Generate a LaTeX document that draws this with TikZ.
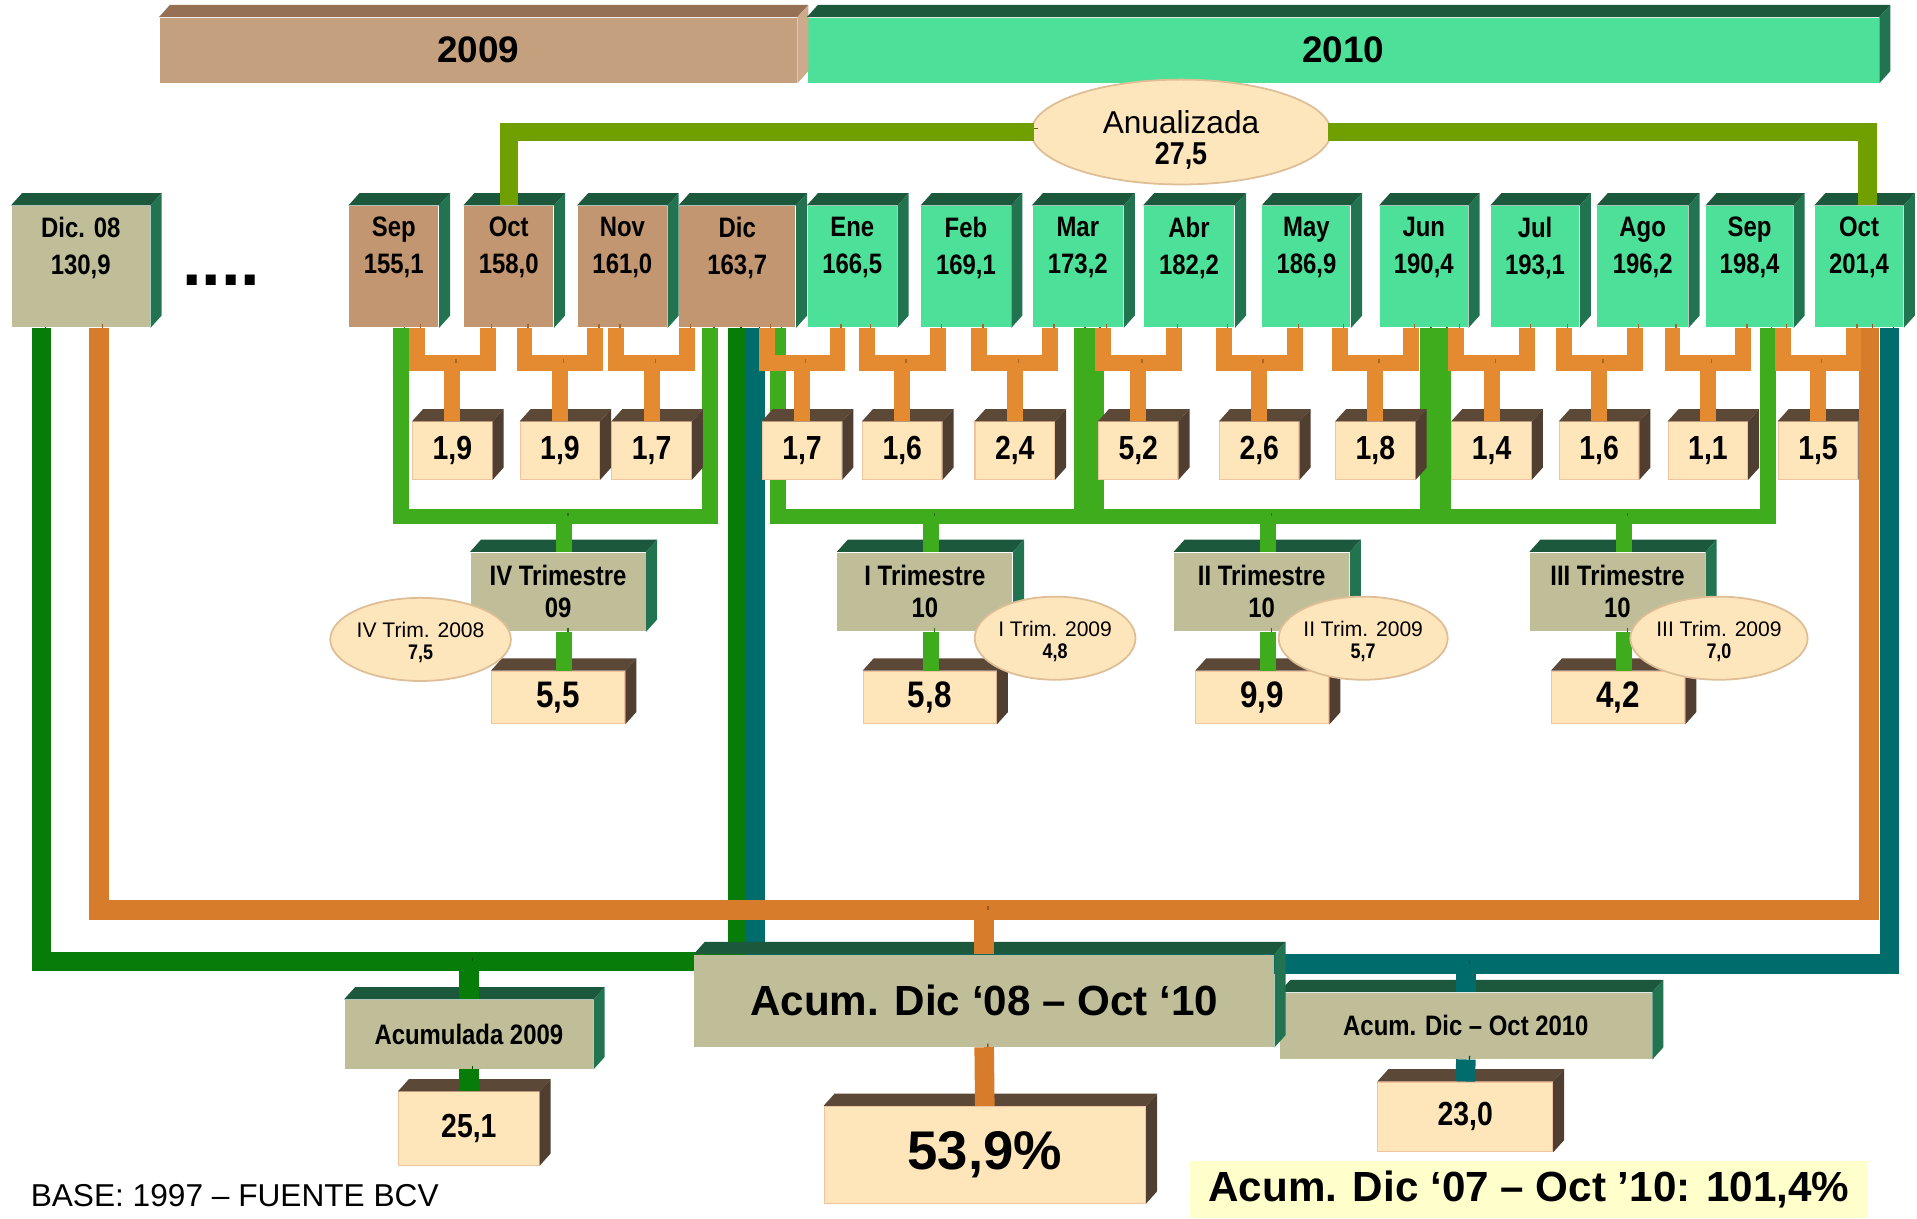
\documentclass[tikz,border=0pt]{standalone}
\usepackage{fontspec}
\setmainfont{Liberation Sans}
\newfontfamily\nar[FakeStretch=0.85]{Liberation Sans}
\usetikzlibrary{shapes.geometric,backgrounds}

\newcommand\px{0.12226mm}
\newcommand\boxfaces[3]{%
  \fill[#2] (#1.north west) -- ++(9,-10) -- ([shift={(9,-10)}]#1.north east) -- (#1.north east) -- cycle;
  \fill[#3] (#1.north east) -- ++(9,-10) -- ([shift={(9,-10)}]#1.south east) -- (#1.south east) -- cycle;}

\definecolor{mes09}{RGB}{193,150,112}
\definecolor{mes10}{RGB}{77,224,152}
\definecolor{olivebox}{RGB}{191,190,152}
\definecolor{cream}{RGB}{255,230,186}
\definecolor{creamedge}{RGB}{240,196,160}
\definecolor{topgreen}{RGB}{28,88,60}
\definecolor{sidegreen}{RGB}{34,116,80}
\definecolor{topbrown}{RGB}{92,72,54}
\definecolor{sidebrown}{RGB}{80,62,48}
\definecolor{bar09}{RGB}{196,160,126}
\definecolor{top09}{RGB}{150,112,84}
\definecolor{side09}{RGB}{205,170,140}
\definecolor{orangeT}{RGB}{228,138,48}
\definecolor{orangeTd}{RGB}{172,100,34}
\definecolor{qgreen}{RGB}{62,172,28}
\definecolor{qgreend}{RGB}{40,116,20}
\definecolor{accgreen}{RGB}{8,124,8}
\definecolor{accgreend}{RGB}{0,84,0}
\definecolor{accorange}{RGB}{214,124,42}
\definecolor{accoranged}{RGB}{150,88,30}
\definecolor{accteal}{RGB}{0,108,108}
\definecolor{acctealdk}{RGB}{0,72,72}
\definecolor{annual}{RGB}{112,160,0}
\definecolor{annuald}{RGB}{82,118,0}
\definecolor{ovalfill}{RGB}{253,229,188}
\definecolor{ovaledge}{RGB}{222,190,150}
\definecolor{note}{RGB}{255,255,204}

\tikzset{
  relief/.style={preaction={draw=#1, transform canvas={xshift=3*\px, yshift=3*\px}}},
  pipe/.style={line width=13*\px},
  tee/.style={pipe, draw=orangeT, relief=orangeTd},
  qline/.style={pipe, draw=qgreen, relief=qgreend},
  trunk/.style={line width=16*\px},
  acc09/.style={trunk, draw=accgreen, relief=accgreend},
  acctot/.style={trunk, draw=accorange, relief=accoranged},
  acc10/.style={trunk, draw=accteal, relief=acctealdk},
  annualline/.style={line width=15*\px, draw=annual, relief=annuald},
  month/.style={anchor=north west, minimum height=99*\px, inner sep=0},
  mlab/.style={anchor=north, inner sep=0, yshift=-9*\px, align=center, font=\nar\bfseries\fontsize{8}{10.4}\selectfont},
  yearbar/.style={anchor=north west, minimum height=53*\px, inner sep=0, font=\bfseries\fontsize{10.5}{12}\selectfont},
  var/.style={fill=cream, draw=creamedge, line width=0.3pt, minimum width=65*\px, minimum height=47*\px, inner sep=0, font=\nar\bfseries\fontsize{9.5}{10}\selectfont},
  qbox/.style={fill=olivebox, minimum width=143*\px, minimum height=64*\px, inner sep=0, align=center, font=\nar\bfseries\fontsize{8}{9}\selectfont},
  res/.style={var, minimum width=109*\px, minimum height=43*\px, font=\nar\bfseries\fontsize{10.5}{11}\selectfont},
  prev/.style={ellipse, fill=ovalfill, draw=ovaledge, line width=0.5pt, minimum width=126*\px, minimum height=68*\px, inner sep=0, align=center, font=\fontsize{6}{6.3}\selectfont},
  accbox/.style={fill=olivebox, inner sep=0, font=\nar\bfseries\fontsize{8}{9}\selectfont},
}

\begin{document}
\begin{tikzpicture}[x=\px, y=-\px]
    \useasboundingbox (0,0) rectangle (1568,997);

    \node[yearbar, fill=bar09, minimum width=521*\px] (y09) at (130,14) {2009};
    \node[yearbar, fill=mes10, minimum width=876*\px] (y10) at (660,14) {2010};
    \boxfaces{y09}{top09}{side09}
    \boxfaces{y10}{topgreen}{sidegreen}

    \node[month, fill=olivebox, minimum width=113*\px, label={[mlab]north:{Dic. 08\\130,9}}] (d08) at (9,168) {};
    \boxfaces{d08}{topgreen}{sidegreen}
    \node[font=\bfseries\fontsize{20}{20}\selectfont] (dots) at (181,229) {....};

    \foreach \nm/\val/\x/\w/\col [count=\i] in {Sep/{155,1}/285/73/mes09, Oct/{158,0}/379/73/mes09,
        Nov/{161,0}/472/73/mes09, Dic/{163,7}/555/95/mes09, Ene/{166,5}/660/73/mes10,
        Feb/{169,1}/753/73/mes10, Mar/{173,2}/844/74/mes10, Abr/{182,2}/935/74/mes10,
        May/{186,9}/1032/72/mes10, Jun/{190,4}/1128/72/mes10, Jul/{193,1}/1219/72/mes10,
        Ago/{196,2}/1306/74/mes10, Sep/{198,4}/1395/71/mes10, Oct/{201,4}/1484/72/mes10}
        \node[month, fill=\col, minimum width=\w*\px, label={[mlab]north:{\nm\\\val}}] (m\i) at (\x,168) {};
    \foreach \i in {1,...,14} {\boxfaces{m\i}{topgreen}{sidegreen}}

    \foreach \v/\x [count=\i] in {{1,9}/370, {1,9}/458, {1,7}/533, {1,7}/656, {1,6}/738, {2,4}/830,
        {5,2}/931, {2,6}/1030, {1,8}/1125, {1,4}/1220, {1,6}/1308, {1,1}/1397, {1,5}/1487}
        \node[var] (v\i) at (\x,368.5) {\v};
    \foreach \i in {1,...,13} {\boxfaces{v\i}{topbrown}{sidebrown}}

    \node[qbox] (q4) at (456.5,484) {IV Trimestre\\09};
    \node[qbox] (q1) at (756.5,484) {I Trimestre\\10};
    \node[qbox] (q2) at (1032,484) {II Trimestre\\10};
    \node[qbox] (q3) at (1323,484) {III Trimestre\\10};
    \node[res] (r4) at (456.5,570.5) {5,5};
    \node[res] (r1) at (760.5,570.5) {5,8};
    \node[res] (r2) at (1032.5,570.5) {9,9};
    \node[res] (r3) at (1323.5,570.5) {4,2};
    \foreach \q in {q4,q1,q2,q3} {\boxfaces{\q}{topgreen}{sidegreen}}
    \foreach \r in {r4,r1,r2,r3} {\boxfaces{\r}{topbrown}{sidebrown}}

    \node[accbox, minimum width=203*\px, minimum height=56*\px] (a09) at (383.5,846) {Acumulada 2009};
    \node[res, minimum width=115*\px, minimum height=60*\px, font=\nar\bfseries\fontsize{9.5}{10}\selectfont] (r09) at (383.5,923) {25,1};
    \node[accbox, minimum width=304*\px, minimum height=54*\px] (a10) at (1199,839) {Acum. Dic – Oct 2010};
    \node[res, minimum width=143*\px, minimum height=57*\px, font=\nar\bfseries\fontsize{9.5}{10}\selectfont] (r10) at (1198.5,913.5) {23,0};
    \boxfaces{a09}{topgreen}{sidegreen}
    \boxfaces{r09}{topbrown}{sidebrown}
    \boxfaces{a10}{topgreen}{sidegreen}
    \boxfaces{r10}{topbrown}{sidebrown}
    \node[accbox, minimum width=474*\px, minimum height=75*\px, font=\bfseries\fontsize{12}{12}\selectfont] (acum) at (805,818.5) {Acum. Dic ‘08 – Oct ‘10};
    \node[res, minimum width=263*\px, minimum height=79*\px, font=\bfseries\fontsize{15.5}{16}\selectfont] (tot) at (805.5,944.5) {53,9\%};
    \boxfaces{acum}{topgreen}{sidegreen}
    \boxfaces{tot}{topbrown}{sidebrown}

    \node[fill=note, minimum width=555*\px, minimum height=47*\px, inner sep=0, font=\bfseries\fontsize{12}{12}\selectfont] (dic07) at (1250.5,973) {Acum. Dic ‘07 – Oct ’10: 101,4\%};
    \node[font=\fontsize{9}{9}\selectfont] (base) at (192,978) {BASE: 1997 – FUENTE BCV};

    \begin{scope}[on background layer]
        \fill[white] (0,0) rectangle (1568,997);
        \draw[acc09] ([xshift=-32*\px]d08.south) |- ([yshift=31*\px]a09.north) -| (m4.south);
        \draw[acc10] ([xshift=15*\px]m4.south) |- ([yshift=23*\px]a10.north) -| ([xshift=25*\px]m14.south);
        \foreach \q/\a/\da/\b/\db in {q4/m1/6/m4/-22, q1/m4/33/m7/3, q2/m7/15/m10/3, q3/m10/16/m13/15}
            \draw[qline] ([xshift=\da*\px]\a.south) |- ([xshift=5*\px, yshift=29*\px]\q.north) -| ([xshift=\db*\px]\b.south);
    \end{scope}
    \draw[acc09] ([yshift=31*\px]a09.north) -- (a09.north);
    \draw[acc09] (a09.south) -- (r09.north);
    \draw[acc10] ([yshift=23*\px]a10.north) -- (a10.north);
    \draw[acc10] (a10.south) -- (r10.north);
    \draw[acctot] ([xshift=15*\px]d08.south) |- ([yshift=36*\px]acum.north) -| ([xshift=8*\px]m14.south);
    \draw[acctot] ([yshift=36*\px]acum.north) -- (acum.north);
    \draw[acctot] (acum.south) -- (tot.north);

    \foreach \i [count=\j from 2] in {1,...,13} {
        \draw[tee] ([xshift=-29*\px]v\i.north |- m\i.south) |- ([yshift=48*\px]v\i.north) -| ([xshift=29*\px]v\i.north |- m\j.south);
        \draw[tee] ([yshift=48*\px]v\i.north) -- (v\i.north);
    }

    \foreach \q/\r in {q4/r4, q1/r1, q2/r2, q3/r3} {
        \draw[qline] ([xshift=5*\px, yshift=29*\px]\q.north) -- ([xshift=5*\px]\q.north);
        \draw[qline] ([xshift=5*\px]\q.south) -- ([xshift=5*\px]\q.south |- \r.north);
    }

    \node[prev, minimum width=245*\px, minimum height=71*\px, font=\fontsize{9}{8.7}\selectfont] (anu) at (966,108) {\rule{0pt}{11pt}Anualizada\\{\nar\bfseries 27,5}};
    \draw[annualline] (m2.north) |- ([xshift=3*\px]anu.west);
    \draw[annualline] ([xshift=-3*\px]anu.east) -| ([xshift=7*\px]m14.north);

    \node[prev] (p4) at (344,523) {\rule{0pt}{6pt}IV Trim. 2008\\{\nar\bfseries 7,5}};
    \node[prev] (p1) at (863,522) {\rule{0pt}{6pt}I Trim. 2009\\{\nar\bfseries 4,8}};
    \node[prev] (p2) at (1115,522) {\rule{0pt}{6pt}II Trim. 2009\\{\nar\bfseries 5,7}};
    \node[prev] (p3) at (1406,522) {\rule{0pt}{6pt}III Trim. 2009\\{\nar\bfseries 7,0}};
\end{tikzpicture}
\end{document}
